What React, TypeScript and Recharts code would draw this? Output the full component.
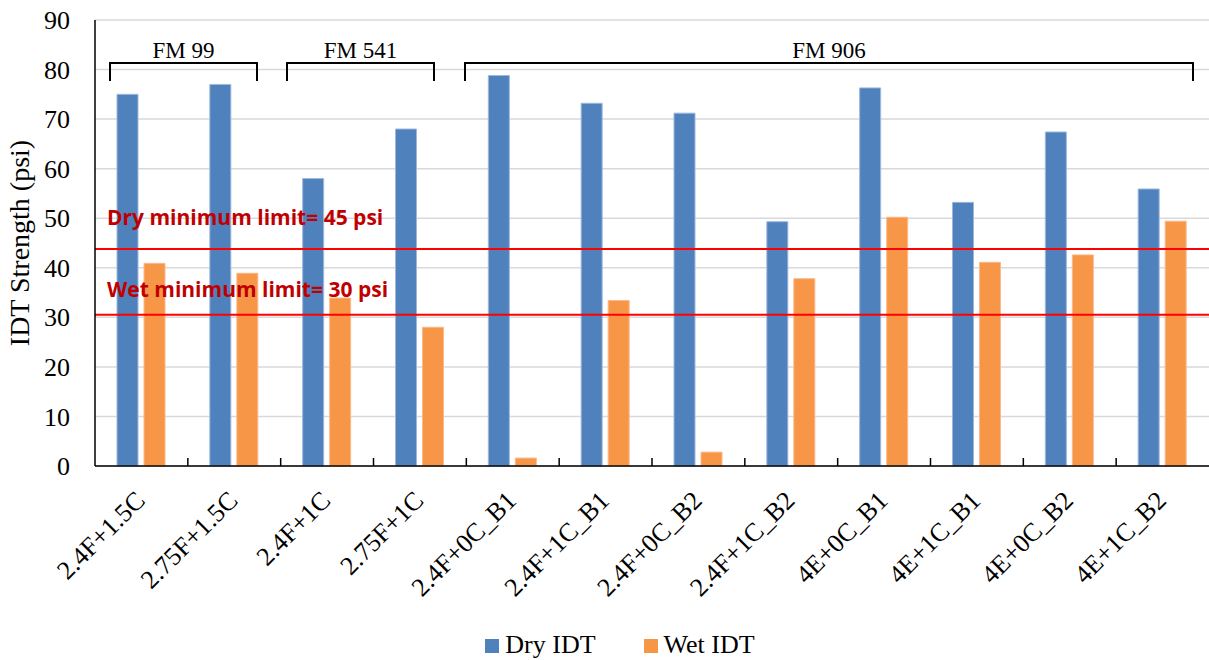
import {
  Bar,
  BarChart,
  CartesianGrid,
  Legend,
  ReferenceLine,
  XAxis,
  YAxis,
} from "recharts";

const mixes = [
  "2.4F+1.5C",
  "2.75F+1.5C",
  "2.4F+1C",
  "2.75F+1C",
  "2.4F+0C_B1",
  "2.4F+1C_B1",
  "2.4F+0C_B2",
  "2.4F+1C_B2",
  "4E+0C_B1",
  "4E+1C_B1",
  "4E+0C_B2",
  "4E+1C_B2",
];
const dryIdt = [75, 77, 58, 68, 78.8, 73.2, 71.2, 49.3, 76.3, 53.2, 67.4, 55.9];
const wetIdt = [40.9, 38.9, 33.9, 28.0, 1.6, 33.4, 2.8, 37.8, 50.2, 41.1, 42.6, 49.4];
const yTicks = [0, 10, 20, 30, 40, 50, 60, 70, 80, 90];

// limit lines as drawn in the source figure
const dryLimit = 43.8;
const wetLimit = 30.5;
const dryLimitText = "Dry minimum limit= 45 psi";
const wetLimitText = "Wet minimum limit= 30 psi";

// road groups, bracket ends in px
const roads = [
  { name: "FM 99", x1: 110, x2: 257 },
  { name: "FM 541", x1: 287, x2: 434 },
  { name: "FM 906", x1: 465, x2: 1193 },
];

const W = 1209;
const H = 660;
const LEFT = 95;
const TOP = 20;
const BOTTOM = 466;
const SERIF = "'Liberation Serif', 'Times New Roman', serif";
const serifStyle = { fontFamily: SERIF };

const data = mixes.map((m, i) => ({ mix: m, dry: dryIdt[i], wet: wetIdt[i] }));

const MixTick = ({ x, y, payload }: any) => (
  <text
    x={x + 5}
    y={y + 34}
    transform={`rotate(-45, ${x + 5}, ${y + 34})`}
    textAnchor="end"
    style={serifStyle}
    fontSize={26}
    fill="#000"
  >
    {payload.value}
  </text>
);

const ValueTick = ({ x, y, payload }: any) => (
  <text
    x={x}
    y={y}
    dy="0.35em"
    textAnchor="end"
    style={serifStyle}
    fontSize={26}
    fill="#000"
  >
    {payload.value}
  </text>
);

const limitLabel = (text: string, lift: number) => (props: any) => {
  const vb = props.viewBox;
  return (
    <text
      x={vb.x + 12}
      y={vb.y - lift}
      style={{ fontFamily: "'Open Sans', Lato, sans-serif" }}
      fontWeight={700}
      fontSize={21}
      fill="#c00000"
    >
      {text}
    </text>
  );
};

const LegendBox = () => (
  <div
    style={{
      display: "flex",
      justifyContent: "center",
      alignItems: "center",
      boxSizing: "border-box",
      height: 40,
      paddingLeft: 31,
      paddingTop: 10,
      fontFamily: SERIF,
      fontSize: 26,
      lineHeight: "28px",
      color: "#000",
    }}
  >
    {[
      { label: "Dry IDT", color: "#4f81bd" },
      { label: "Wet IDT", color: "#f79646" },
    ].map((it, i) => (
      <span
        key={it.label}
        style={{ display: "flex", alignItems: "center", marginLeft: i ? 48 : 0 }}
      >
        <span
          style={{ width: 14, height: 14, background: it.color, marginRight: 6, marginTop: 2 }}
        />
        {it.label}
      </span>
    ))}
  </div>
);

export default function App() {
  const catW = (W - LEFT) / mixes.length;
  return (
    <div style={{ position: "absolute", left: 0, top: 0, width: W, height: H, background: "#fff" }}>
      <BarChart
        width={W}
        height={H}
        data={data}
        margin={{ top: TOP, right: 0, left: 0, bottom: 0 }}
        barSize={21}
        barGap={6}
      >
        <CartesianGrid vertical={false} stroke="#d9d9d9" strokeWidth={1.5} />
        <XAxis
          dataKey="mix"
          interval={0}
          height={154}
          tickLine={false}
          tickSize={0}
          tick={<MixTick />}
          axisLine={{ stroke: "#000", strokeWidth: 1.5 }}
        />
        <YAxis
          width={LEFT}
          domain={[0, 90]}
          ticks={yTicks}
          tickLine={false}
          tickSize={0}
          tickMargin={25}
          axisLine={{ stroke: "#000", strokeWidth: 1.5 }}
          tick={<ValueTick />}
          label={{
            value: "IDT Strength (psi)",
            angle: -90,
            position: "insideLeft",
            dx: 14,
            style: { fontFamily: SERIF, fontSize: 28, fill: "#000", textAnchor: "middle" },
          }}
        />
        <Legend verticalAlign="bottom" height={40} content={<LegendBox />} />
        <Bar dataKey="dry" name="Dry IDT" fill="#4f81bd" stroke="#9db8dc" strokeWidth={1} isAnimationActive={false} />
        <Bar dataKey="wet" name="Wet IDT" fill="#f79646" stroke="#f9b98c" strokeWidth={1} isAnimationActive={false} />
        <ReferenceLine y={dryLimit} stroke="#ff0000" strokeWidth={2} label={limitLabel(dryLimitText, 24)} />
        <ReferenceLine y={wetLimit} stroke="#ff0000" strokeWidth={2} label={limitLabel(wetLimitText, 18)} />
      </BarChart>
      <svg
        width={W}
        height={H}
        style={{ position: "absolute", left: 0, top: 0, pointerEvents: "none" }}
      >
        {mixes.slice(1).map((m, i) => {
          const x = LEFT + catW * (i + 1);
          return <line key={m} x1={x} x2={x} y1={BOTTOM} y2={BOTTOM - 8} stroke="#000" strokeWidth={1.5} />;
        })}
        {roads.map((r) => (
          <g key={r.name}>
            <path
              d={`M${r.x1},81 V63 H${r.x2} V81`}
              fill="none"
              stroke="#000"
              strokeWidth={2}
            />
            <text
              x={(r.x1 + r.x2) / 2}
              y={58}
              textAnchor="middle"
              style={serifStyle}
              fontSize={23}
              fill="#000"
            >
              {r.name}
            </text>
          </g>
        ))}
      </svg>
    </div>
  );
}
